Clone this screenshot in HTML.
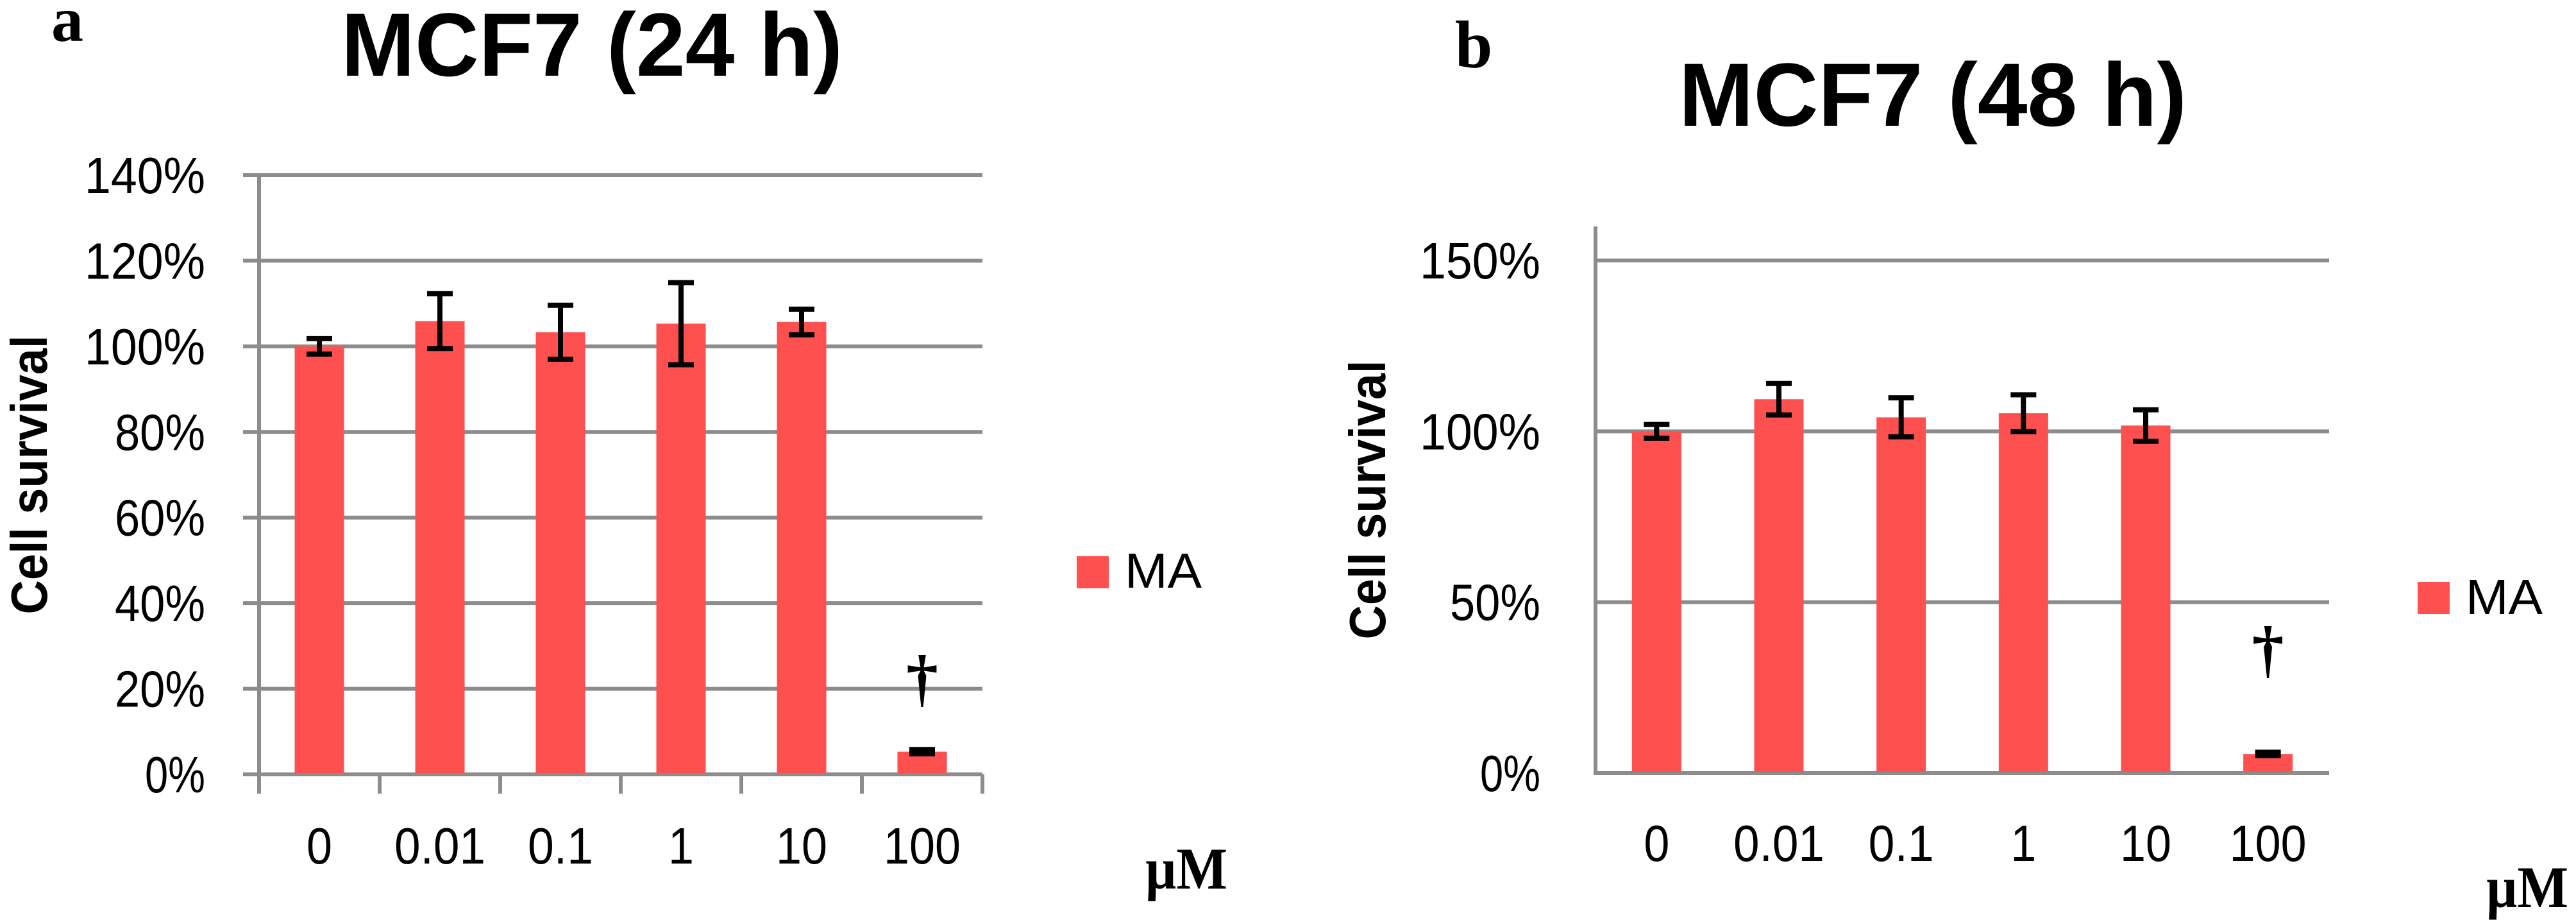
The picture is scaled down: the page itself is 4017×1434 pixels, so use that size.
<!DOCTYPE html>
<html><head><meta charset="utf-8"><style>
html,body{margin:0;padding:0;background:#fff;}
svg{display:block;}
text{font-family:"Liberation Sans",sans-serif;}
.serif{font-family:"Liberation Serif",serif;font-weight:bold;}
</style></head><body>
<svg id="fig" width="4017" height="1434" viewBox="0 0 4017 1434" xmlns="http://www.w3.org/2000/svg">
<g id="pa"></g>
<g id="pb"></g>
</svg>
<script>
const categories = ["0","0.01","0.1","1","10","100"];
const valuesA = [100, 105.9, 103.3, 105.3, 105.7, 5.3];
const errorsA = [1.8, 6.4, 6.3, 9.6, 3.0, 0.5];
const ticksA = [0, 20, 40, 60, 80, 100, 120, 140];
const tickLabelsA = ["0%","20%","40%","60%","80%","100%","120%","140%"];
const valuesB = [100, 109.4, 104.1, 105.3, 101.7, 5.6];
const errorsB = [2.0, 4.6, 5.7, 5.4, 4.6, 0.5];
const ticksB = [0, 50, 100, 150];
const tickLabelsB = ["0%","50%","100%","150%"];

const NS = "http://www.w3.org/2000/svg";
function mk(parent, tag, attrs, txt){
  const e = document.createElementNS(NS, tag);
  for (const k in attrs) e.setAttribute(k, attrs[k]);
  if (txt !== undefined) e.textContent = txt;
  parent.appendChild(e);
  return e;
}

function panel(g, cfg){
  const yS = v => cfg.y0 - (v - 0) * (cfg.y0 - cfg.yTop) / cfg.vTop;
  const cw = (cfg.x1 - cfg.x0) / categories.length;
  const xC = i => cfg.x0 + cw * (i + 0.5);
  // gridlines
  cfg.ticks.forEach((t, i) => {
    const y = yS(t);
    const l = mk(g, 'line', {x1: cfg.gx, x2: cfg.x1, y1: y, y2: y, stroke: '#8c8c8c', 'stroke-width': 6});
    
    
    const tx = mk(g, 'text', {x: cfg.labR, y: y + 28, 'text-anchor': 'end', 'font-size': 80, textLength: cfg.tickLabels[i].length * 47, lengthAdjust: 'spacingAndGlyphs'}, cfg.tickLabels[i]);
    
    
  });
  // axis
  const ax = mk(g, 'line', {x1: cfg.x0, x2: cfg.x0, y1: cfg.axTop, y2: cfg.y0 + (cfg.ticksBelow ? 30 : 3), stroke: '#8c8c8c', 'stroke-width': 6});
  
  
  if (cfg.ticksBelow) {
    for (let i = 1; i <= categories.length; i++) {
      const x = cfg.x0 + cw * i;
      const tk = mk(g, 'line', {x1: x, x2: x, y1: cfg.y0, y2: cfg.y0 + 30, stroke: '#8c8c8c', 'stroke-width': 6});
      
      
    }
  }
  // bars
  cfg.values.forEach((v, i) => {
    const x = xC(i), w = 77;
    const r = mk(g, 'rect', {x: x - w/2, y: yS(v), width: w, height: cfg.y0 - yS(v) - 2, fill: '#ff5050'});
    
    
    const e = cfg.errors[i];
    const eb = mk(g, 'path', {d: `M${x-20},${yS(v+e)}H${x+20}M${x},${yS(v+e)}V${yS(v-e)}M${x-20},${yS(v-e)}H${x+20}`, stroke: '#000', 'stroke-width': 8, fill: 'none'});
    
    
    const xl = mk(g, 'text', {x: x, y: cfg.xLabY, 'text-anchor': 'middle', 'font-size': 80, textLength: categories[i].length * 40 - (categories[i].includes('.') ? 18 : 0), lengthAdjust: 'spacingAndGlyphs'}, categories[i]);
    
    
  });
  // dagger
  const d = mk(g, 'text', {x: xC(5), y: cfg.dagY, 'text-anchor': 'middle', 'font-size': 100, class: 'serif'}, '†');
  
  
}

const pa = document.getElementById('pa');
const pb = document.getElementById('pb');
panel(pa, {x0: 404, x1: 1532, gx: 379, y0: 1207, yTop: 273, vTop: 140, axTop: 273, ticks: ticksA, tickLabels: tickLabelsA, values: valuesA, errors: errorsA, labR: 320, xLabY: 1346, dagY: 1090, ticksBelow: true});
panel(pb, {x0: 2488, x1: 3632, gx: 2488, y0: 1205, yTop: 406, vTop: 150, axTop: 353, ticks: ticksB, tickLabels: tickLabelsB, values: valuesB, errors: errorsB, labR: 2402, xLabY: 1342, dagY: 1045, ticksBelow: false});
</script>
<svg style="position:absolute;left:0;top:0" width="4017" height="1434" viewBox="0 0 4017 1434">
  <text class="serif" x="80" y="64" font-size="100" font-family="Liberation Serif">a</text>
  <text x="532" y="118" font-size="140" font-weight="bold" textLength="782" lengthAdjust="spacingAndGlyphs">MCF7 (24 h)</text>
  <text transform="translate(73,740) rotate(-90)" text-anchor="middle" font-size="80" font-weight="bold" textLength="435" lengthAdjust="spacingAndGlyphs">Cell survival</text>
  <rect x="1679" y="867" width="50" height="50" fill="#ff5050"/>
  <text x="1754" y="916" font-size="77" textLength="120" lengthAdjust="spacingAndGlyphs">MA</text>
  <text class="serif" x="1786" y="1385" font-size="92" font-family="Liberation Serif" textLength="128" lengthAdjust="spacingAndGlyphs">µM</text>

  <text class="serif" x="2269" y="105" font-size="105" font-family="Liberation Serif">b</text>
  <text x="2618" y="196" font-size="140" font-weight="bold" textLength="792" lengthAdjust="spacingAndGlyphs">MCF7 (48 h)</text>
  <text transform="translate(2160,779) rotate(-90)" text-anchor="middle" font-size="80" font-weight="bold" textLength="435" lengthAdjust="spacingAndGlyphs">Cell survival</text>
  <rect x="3770" y="907" width="50" height="50" fill="#ff5050"/>
  <text x="3845" y="957" font-size="77" textLength="120" lengthAdjust="spacingAndGlyphs">MA</text>
  <text class="serif" x="3877" y="1414" font-size="92" font-family="Liberation Serif" textLength="128" lengthAdjust="spacingAndGlyphs">µM</text>
</svg>
</body></html>
